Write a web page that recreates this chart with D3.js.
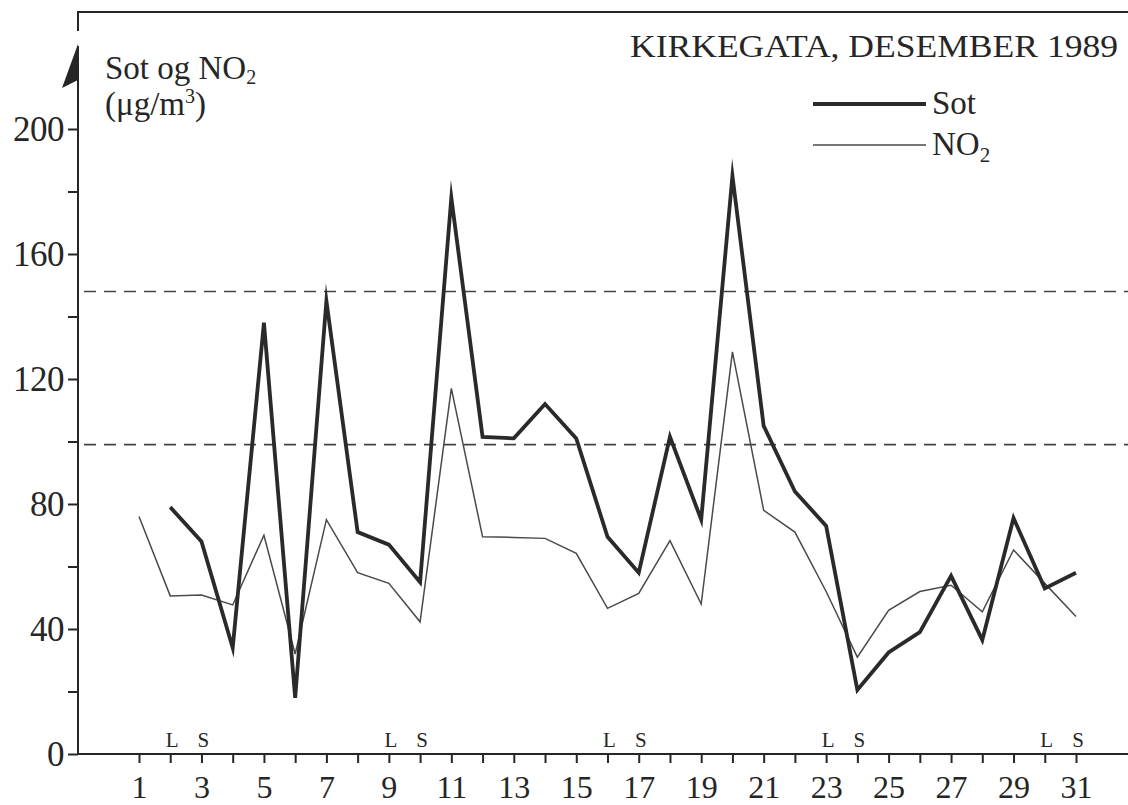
<!DOCTYPE html>
<html>
<head>
<meta charset="utf-8">
<script src="https://cdn.jsdelivr.net/npm/d3@7"></script>
<style>
  html, body { margin: 0; padding: 0; background: #fff; }
  svg { display: block; }
  text { font-family: "Liberation Serif", "DejaVu Serif", serif; fill: #262626; }
</style>
</head>
<body>
<svg id="chart" width="1128" height="805"></svg>
<script>
// Daily means, Kirkegata, December 1989 (µg/m³)
const days = d3.range(1, 32);
const sot = [null, 79, 68, 34, 138, 18, 145, 71, 67, 55, 178, 101.5, 101, 112, 101, 69.5,
             58, 101.5, 75, 185, 105, 84, 73, 20.5, 32.5, 39, 57, 36.5, 75.5, 53, 58];
const no2 = [76, 50.6, 50.9, 47.7, 70, 32, 75, 58, 54.6, 42.3, 117, 69.5, 69.3, 69, 64.2, 46.6,
             51.4, 68.3, 48, 128.7, 78, 71, 52, 31, 46, 52, 54, 45.5, 65.3, 54.6, 44];
// Guideline levels drawn as dashed lines
const limits = [148, 99];
const yTicks = d3.range(0, 201, 20);
const weekendMarks = [
  { day: 2, label: "L" }, { day: 3, label: "S" },
  { day: 9, label: "L" }, { day: 10, label: "S" },
  { day: 16, label: "L" }, { day: 17, label: "S" },
  { day: 23, label: "L" }, { day: 24, label: "S" },
  { day: 30, label: "L" }, { day: 31, label: "S" }
];

const svg = d3.select("#chart");
const ink = "#262626";

const x = d3.scaleLinear().domain([1, 31]).range([139, 1076]);
const y = d3.scaleLinear().domain([0, 200]).range([754, 129]);
const axisX0 = 78, axisRight = 1128;

// Outer frame: top rule and short left stub
svg.append("path")
  .attr("d", `M${axisX0},31 L${axisX0},12 L${axisRight},12`)
  .attr("fill", "none").attr("stroke", ink).attr("stroke-width", 2);

// Y axis with half arrow head
svg.append("line")
  .attr("x1", axisX0).attr("x2", axisX0).attr("y1", 46).attr("y2", y(0))
  .attr("stroke", ink).attr("stroke-width", 2);
svg.append("path")
  .attr("d", `M${axisX0},44 L${axisX0 - 16},88 L${axisX0},80 Z`)
  .attr("fill", ink);

const yAxis = d3.axisLeft(y)
  .tickValues(yTicks)
  .tickSize(10)
  .tickPadding(4)
  .tickFormat(v => v % 40 === 0 ? v : "");
const gy = svg.append("g").attr("transform", `translate(${axisX0},0)`).call(yAxis);
gy.select(".domain").remove();
gy.selectAll(".tick line").attr("stroke", ink).attr("stroke-width", 2);
gy.selectAll(".tick text")
  .attr("font-family", "Liberation Serif, serif")
  .attr("font-size", 35).attr("fill", ink).attr("letter-spacing", -0.5);

// X axis
svg.append("line")
  .attr("x1", axisX0).attr("x2", axisRight).attr("y1", y(0)).attr("y2", y(0))
  .attr("stroke", ink).attr("stroke-width", 2);
const xAxis = d3.axisBottom(x)
  .tickValues(days)
  .tickSize(9)
  .tickPadding(12)
  .tickFormat(d => d % 2 === 1 ? d : "");
const gx = svg.append("g").attr("transform", `translate(0,${y(0)})`).call(xAxis);
gx.select(".domain").remove();
gx.selectAll(".tick line").attr("stroke", ink).attr("stroke-width", 2);
gx.selectAll(".tick text")
  .attr("font-family", "Liberation Serif, serif")
  .attr("font-size", 32).attr("fill", ink);

// Weekend markers (lørdag / søndag)
svg.append("g").selectAll("text").data(weekendMarks).join("text")
  .attr("x", d => x(d.day) + 2)
  .attr("y", y(0) - 7)
  .attr("text-anchor", "middle")
  .attr("font-size", 21)
  .text(d => d.label);

// Dashed guideline levels
svg.append("g").selectAll("line").data(limits).join("line")
  .attr("x1", 84).attr("x2", axisRight)
  .attr("y1", d => y(d)).attr("y2", d => y(d))
  .attr("stroke", "#444").attr("stroke-width", 1.6)
  .attr("stroke-dasharray", "12,8");

// Series lines
const line = d3.line()
  .defined(d => d[1] != null)
  .x(d => x(d[0]))
  .y(d => y(d[1]));

svg.append("path")
  .datum(days.map((d, i) => [d, no2[i]]))
  .attr("d", line)
  .attr("fill", "none").attr("stroke", "#4a4a4a").attr("stroke-width", 1.5)
  .attr("stroke-linejoin", "miter");

svg.append("path")
  .datum(days.map((d, i) => [d, sot[i]]))
  .attr("d", line)
  .attr("fill", "none").attr("stroke", "#2a2a2a").attr("stroke-width", 3.8)
  .attr("stroke-linejoin", "miter").attr("stroke-miterlimit", 10);

// Y axis title
const yt = svg.append("text").attr("x", 105).attr("y", 79).attr("font-size", 33);
yt.append("tspan").text("Sot og NO");
yt.append("tspan").attr("font-size", 20).attr("dy", 5).text("2");
const yu = svg.append("text").attr("x", 105).attr("y", 115).attr("font-size", 33);
yu.append("tspan").text("(μg/m");
yu.append("tspan").attr("font-size", 20).attr("dy", -12).text("3");
yu.append("tspan").attr("dy", 12).text(")");

// Chart title
svg.append("text")
  .attr("x", 630).attr("y", 57)
  .attr("font-size", 32)
  .attr("textLength", 488)
  .attr("lengthAdjust", "spacingAndGlyphs")
  .text("KIRKEGATA, DESEMBER 1989");

// Legend
const legend = [
  { label: "Sot", width: 3.8, color: "#2a2a2a", y: 104 },
  { label: "NO", sub: "2", width: 1.5, color: "#4a4a4a", y: 145 }
];
const lg = svg.append("g");
lg.selectAll("line").data(legend).join("line")
  .attr("x1", 813).attr("x2", 926)
  .attr("y1", d => d.y).attr("y2", d => d.y)
  .attr("stroke", d => d.color).attr("stroke-width", d => d.width);
lg.selectAll("text").data(legend).join("text")
  .attr("x", 932).attr("y", d => d.y + 10)
  .attr("font-size", 33)
  .each(function (d) {
    const t = d3.select(this);
    t.append("tspan").text(d.label);
    if (d.sub) t.append("tspan").attr("font-size", 21).attr("dy", 7).text(d.sub);
  });
</script>
</body>
</html>
